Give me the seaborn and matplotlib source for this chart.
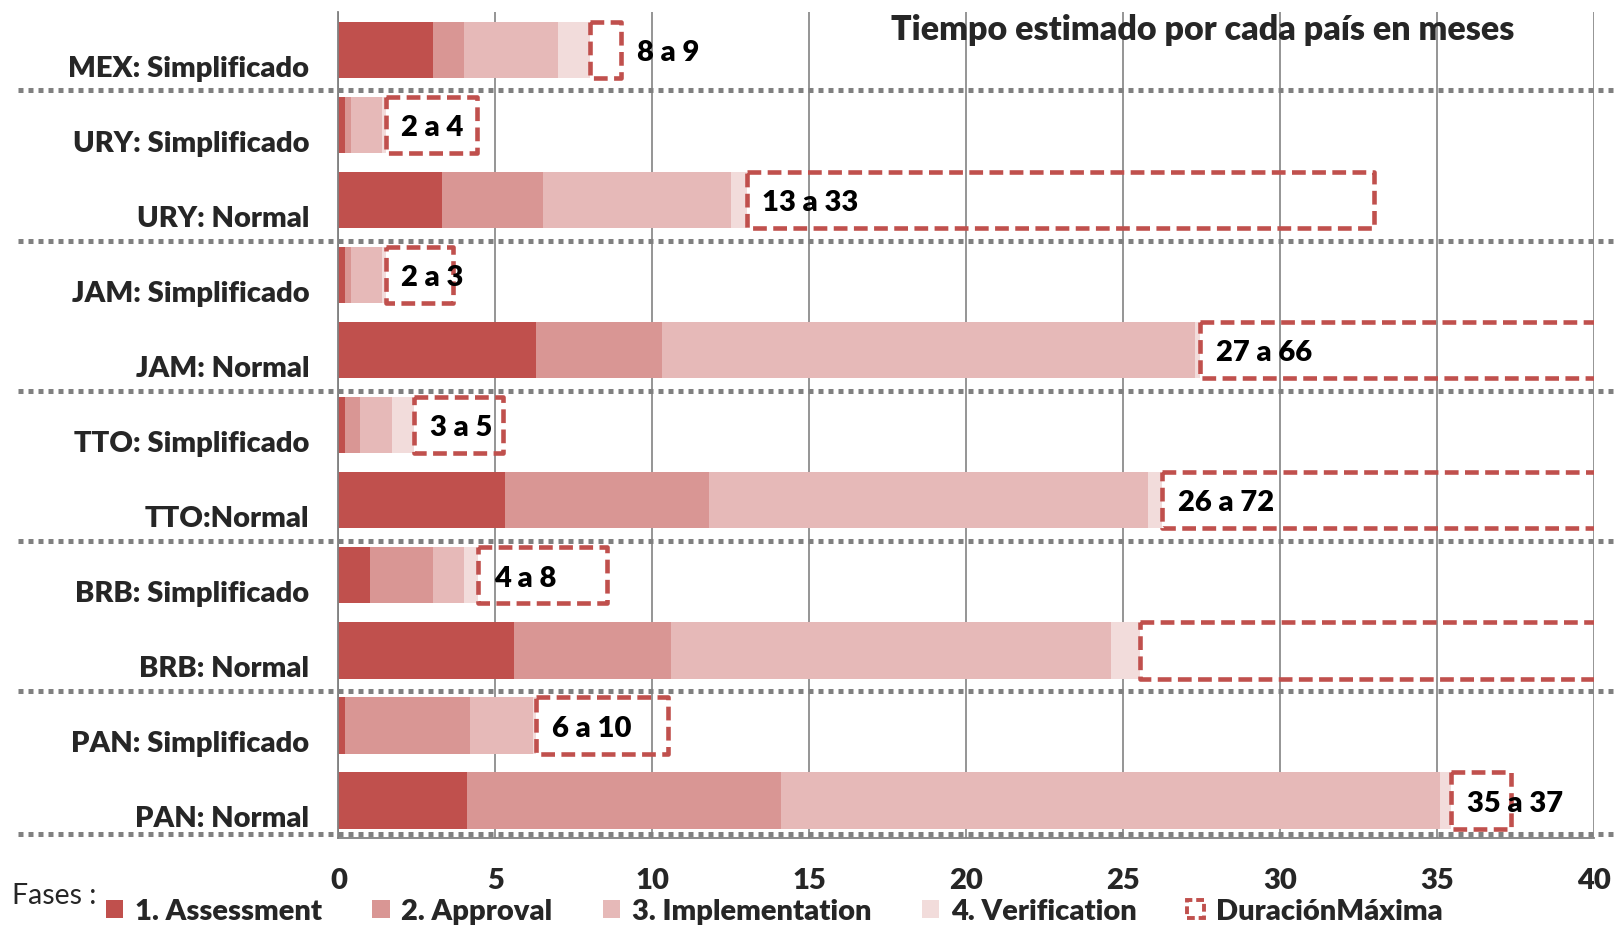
import numpy as np
import pandas as pd
import matplotlib.pyplot as plt
import seaborn as sns
from matplotlib.patches import Patch
from matplotlib.transforms import ScaledTranslation, blended_transform_factory

# -----------------------
# DATA
# -----------------------
categories = [
    "MEX: Simplificado", "URY: Simplificado", "URY: Normal",
    "JAM: Simplificado", "JAM: Normal", "TTO: Simplificado", "TTO:Normal",
    "BRB: Simplificado", "BRB: Normal", "PAN: Simplificado", "PAN: Normal",
]
country = ["MEX", "URY", "URY", "JAM", "JAM", "TTO", "TTO", "BRB", "BRB", "PAN", "PAN"]

assessment = [3.0, 0.2, 3.3, 0.2, 6.3, 0.2, 5.3, 1.0, 5.6, 0.2, 4.1]
approval = [1.0, 0.2, 3.2, 0.2, 4.0, 0.5, 6.5, 2.0, 5.0, 4.0, 10.0]
implementation = [3.0, 1.0, 6.0, 1.0, 17.0, 1.0, 14.0, 1.0, 14.0, 2.0, 21.0]
verification = [1.0, 0.1, 0.5, 0.1, 0.15, 0.7, 0.45, 0.45, 0.95, 0.1, 0.35]
duracion_max = [1.0, 2.9, 20.0, 2.15, 38.5, 2.85, 45.7, 4.1, 15.0, 4.2, 1.9]
rango = ["8 a 9", "2 a 4", "13 a 33", "2 a 3", "27 a 66", "3 a 5", "26 a 72",
         "4 a 8", "", "6 a 10", "35 a 37"]

phase_names = ["1. Assessment", "2. Approval", "3. Implementation", "4. Verification"]
phase_colors = ["#C0504D", "#D99694", "#E6B9B8", "#F2DCDB"]
red = "#C0504D"
grey = "#808080"

df = pd.DataFrame({
    "categoria": categories,
    "pais": country,
    "1. Assessment": assessment,
    "2. Approval": approval,
    "3. Implementation": implementation,
    "4. Verification": verification,
    "DuracionMaxima": duracion_max,
    "rango": rango,
})

# -----------------------
# STYLE
# -----------------------
sns.set_style("white")
plt.rcParams["font.family"] = ["Lato", "DejaVu Sans"]
W = "heavy"

fig = plt.figure(figsize=(16.18, 9.28), dpi=100)
ax = fig.add_axes([0.2092, 0.0959, 0.7760, 0.8897])

# stacked phases
left = np.zeros(len(df))
for name, col in zip(phase_names, phase_colors):
    sns.barplot(data=df, y="categoria", x=name, orient="h", color=col,
                width=0.75, left=left.copy(), linewidth=0, saturation=1, ax=ax)
    left += df[name].to_numpy()

# dashed box for the max duration
sns.barplot(data=df, y="categoria", x="DuracionMaxima", orient="h", color=red,
            width=0.75, left=left.copy(), fill=False, linewidth=3.3,
            linestyle=(0, (3.0, 1.4)), ax=ax)
for p in ax.patches[-len(df):]:
    p.set_joinstyle("round")

# range labels
for i, (start, dur, txt) in enumerate(zip(left, df["DuracionMaxima"], df["rango"])):
    if not txt:
        continue
    x = start + 0.5 if dur >= 1.5 else start + dur + 0.5
    ax.text(x, i + 0.03, txt, va="center", ha="left", fontsize=21, fontweight=W,
            color="black", zorder=5)

ax.set_xlim(0, 40)
ax.set_ylim(len(df) - 0.5, -0.5)
ax.set_xticks(range(0, 41, 5))
ax.set_xlabel("")
ax.set_ylabel("")
ax.grid(axis="x", color="#8c8c8c", linewidth=1.3)
ax.grid(axis="y", visible=False)
ax.set_axisbelow(True)

for s in ["top", "right"]:
    ax.spines[s].set_visible(False)
for s in ["left", "bottom"]:
    ax.spines[s].set_color(grey)
    ax.spines[s].set_linewidth(1.3)

ax.tick_params(axis="x", length=7, width=1.3, color=grey, pad=14, labelsize=21)
ax.tick_params(axis="y", which="major", length=0, pad=21, labelsize=21)
ax.set_yticks(np.arange(-0.5, len(df), 1), minor=True)
ax.tick_params(axis="y", which="minor", length=8, width=1.3, color=grey)
for lab in ax.get_xticklabels() + ax.get_yticklabels():
    lab.set_fontweight(W)
for lab in ax.get_yticklabels():
    lab.set_transform(lab.get_transform() + ScaledTranslation(0, -0.155, fig.dpi_scale_trans))

# dotted separators between countries
trans = blended_transform_factory(ax.transAxes, ax.transData)
bounds = [i - 0.5 for i in range(1, len(df)) if country[i] != country[i - 1]] + [len(df) - 0.6]
for b in bounds:
    ax.plot([-0.255, 1.02], [b + 0.04, b + 0.04], transform=trans, clip_on=False,
            color=grey, linewidth=3.6, linestyle=(0, (1.0, 1.0)), zorder=6)

# title
fig.text(0.7433, 0.968, "Tiempo estimado por cada país en meses", ha="center",
         va="center", fontsize=24.5, fontweight=W)

# legend
handles = [Patch(facecolor=c, edgecolor="none") for c in phase_colors]
handles.append(Patch(facecolor="none", edgecolor=red, linestyle=(0, (2, 1)), linewidth=2.8))
fig.legend(handles, phase_names + ["DuraciónMáxima"], loc="center left",
           bbox_to_anchor=(0.0655, 0.017), ncol=5, frameon=False,
           prop={"size": 21, "weight": W}, handlelength=0.6, handleheight=0.6,
           handletextpad=0.4, columnspacing=1.72, borderpad=0, borderaxespad=0)
fig.text(0.0077, 0.0345, "Fases :", ha="left", va="center", fontsize=20.5,
         fontweight="normal")

fig.savefig("out.png", dpi=100)
